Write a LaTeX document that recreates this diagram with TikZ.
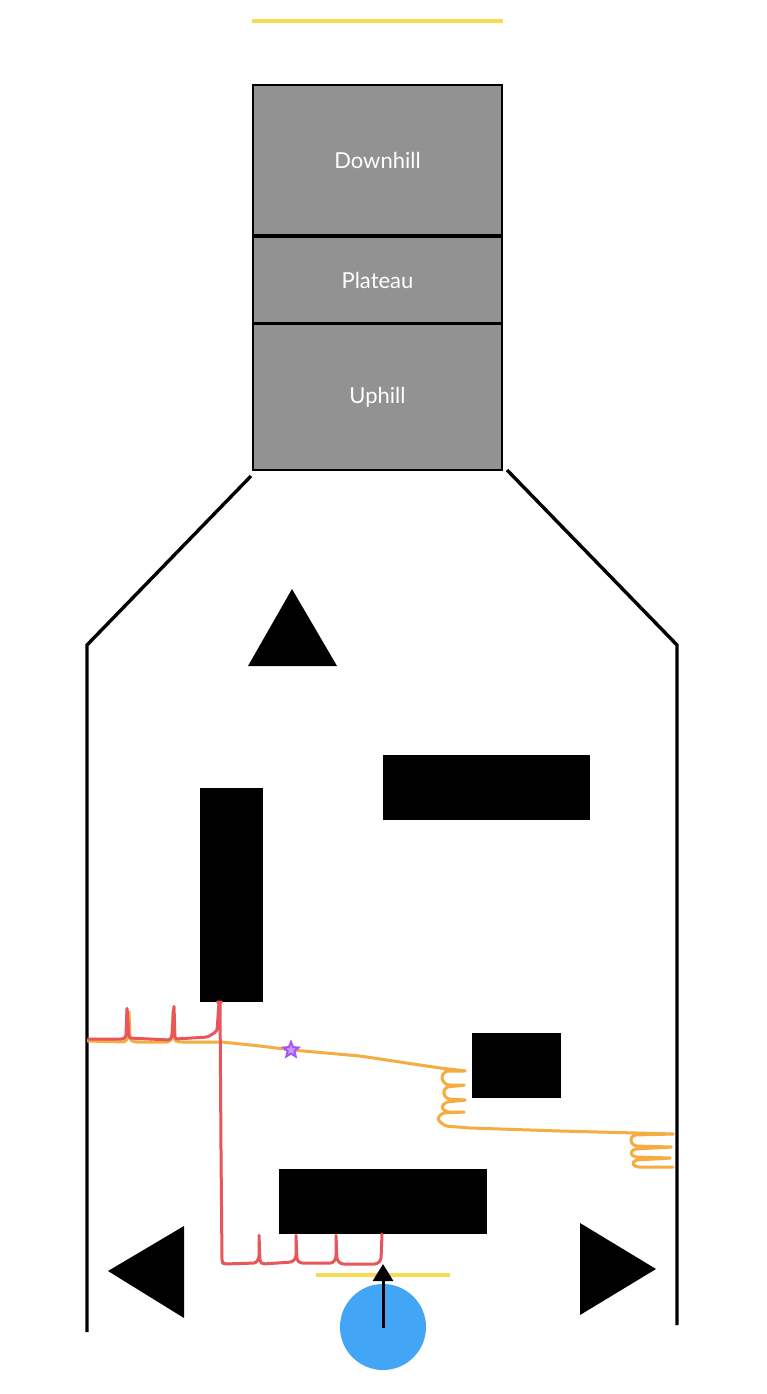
\documentclass[tikz,border=0pt]{standalone}
\usepackage{fontspec}
\setmainfont{Lato}
\usetikzlibrary{arrows.meta,shapes.geometric}
\definecolor{tyellow}{HTML}{F5DC50}
\definecolor{zonegray}{HTML}{929292}
\definecolor{tred}{HTML}{E8555A}
\definecolor{torange}{HTML}{F5AC40}
\definecolor{tblue}{HTML}{42A5F5}
\definecolor{tpurple}{HTML}{A855F7}
\begin{document}
\begin{tikzpicture}[x=1pt,y=-1pt,
  zone/.style={draw=black, line width=2.2pt, fill=zonegray, text=white, minimum width=249pt, inner sep=0pt, font=\fontsize{22}{26}\selectfont},
  block/.style={fill=black, draw=none, inner sep=0pt},
  wall/.style={line width=3.4pt, line join=miter},
  hl/.style={tyellow, line width=3.8pt},
  redpath/.style={tred, line width=3pt, rounded corners=2.5pt, line join=round, line cap=round},
  orpath/.style={torange, line width=3pt, rounded corners=3pt, line join=round, line cap=round}]
\useasboundingbox (0,0) rectangle (766,1394);
\fill[white] (0,0) rectangle (766,1394);
% top yellow line
\coordinate (ty1) at (252,21); \coordinate (ty2) at (503,21);
\draw[hl] (ty1) -- (ty2);
% zones
\node[zone, minimum height=150pt] (down) at (377.5,160) {Downhill};
\node[zone, minimum height=86pt] (plat) at (377.5,280) {Plateau};
\node[zone, minimum height=146pt] (up) at (377.5,397) {Uphill};
% walls
\draw[wall] (251,476) -- (87,645) -- (87,1332);
\draw[wall] (507,470) -- (677,645) -- (677,1325);
% triangles
\fill (292,589) -- (337,666) -- (248,666) -- cycle;
\fill (108,1271) -- (184,1226) -- (184,1318) -- cycle;
\fill (656,1269) -- (580,1223) -- (580,1315) -- cycle;
% blocks
\node[block, minimum width=207pt, minimum height=65pt] (b1) at (486.5,787.5) {};
\node[block, minimum width=63pt, minimum height=214pt] (b2) at (231.5,895) {};
\node[block, minimum width=89pt, minimum height=65pt] (b3) at (516.5,1065.5) {};
\node[block, minimum width=208pt, minimum height=65pt] (b4) at (383,1201.5) {};
% orange path
\draw[orpath] (88,1041) -- (126,1042) -- (128,1036) -- (129,1010) -- (130,1040) -- (134,1042) -- (170,1042) -- (172,1037) -- (173,1010) -- (174,1040) -- (178,1042) -- (222,1042) -- (260,1046) -- (292,1050) -- (360,1056) -- (420,1065) -- (440,1068) -- (467,1071) -- (445,1071) -- (441,1078) -- (446,1085) -- (466,1085) -- (446,1087) -- (443,1093) -- (447,1099) -- (467,1100) -- (446,1102) -- (441,1107) -- (446,1112) -- (466,1112) -- (442,1113) -- (437,1119) -- (445,1126) -- (470,1128) -- (560,1131) -- (675,1134) -- (633,1135) -- (630,1140) -- (634,1146) -- (673,1147) -- (634,1149) -- (630,1153) -- (634,1157) -- (672,1158) -- (635,1160) -- (632,1164) -- (636,1167) -- (673,1167);
% red path
\draw[redpath] (88,1039) -- (124,1039) -- (126,1036) -- (127,1007) -- (129,1038) -- (170,1040) -- (172,1036) -- (174,1005) -- (175,1039) -- (208,1037) -- (217,1031) -- (219,1002) -- (220,1002) -- (221,1150) -- (222,1262) -- (224,1264) -- (256,1263) -- (259,1258) -- (259,1234) -- (260,1262) -- (263,1264) -- (292,1262) -- (296,1258) -- (296,1234) -- (297,1260) -- (300,1263) -- (333,1263) -- (336,1258) -- (336,1234) -- (337,1260) -- (341,1264) -- (377,1264) -- (381,1260) -- (382,1234);
% star
\node[star, star points=5, star point ratio=2.2, draw=tpurple, fill=tpurple!60, line width=2pt, minimum size=16pt, inner sep=0pt] (mark) at (291,1050) {};
% bottom yellow line
\coordinate (by1) at (316,1275); \coordinate (by2) at (450,1275);
\draw[hl] (by1) -- (by2);
% ball and arrow
\node[circle, fill=tblue, minimum size=86pt, inner sep=0pt] (ball) at (383,1327) {};
\coordinate (aim) at (383,1264);
\draw[line width=3pt, -{Triangle[length=17pt,width=20pt]}] ([yshift=-1pt]ball.center) -- (aim);
\end{tikzpicture}
\end{document}
